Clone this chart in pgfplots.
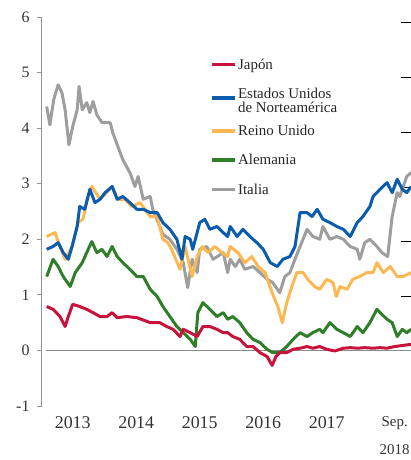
\documentclass[border=0pt]{standalone}
\usepackage{pgfplots}
\pgfplotsset{compat=1.18}
\usepackage{fontspec}
\setmainfont{Liberation Serif}
\definecolor{cJP}{HTML}{C8143C}
\definecolor{cUS}{HTML}{0B5CAD}
\definecolor{cUK}{HTML}{FDB851}
\definecolor{cDE}{HTML}{2F7F2A}
\definecolor{cIT}{HTML}{9E9E9E}
\begin{document}
\begin{tikzpicture}
\useasboundingbox (-42bp,-54bp) rectangle (369bp,406bp);
% right-hand ticks (axis cut off at the right edge)
\begin{axis}[at={(0,0)}, anchor=south west, scale only axis, width=369bp, height=389bp,
  xmin=0, xmax=1, ymin=-1, ymax=6,
  axis x line=none, axis y line*=right, y axis line style={draw=none},
  ytick={5.90,4.91,3.92,2.93,1.96,0.97}, yticklabels={},
  tick align=center, major tick length=20bp,
  ytick style={black, line width=1.6bp}]
\addplot[draw=none] coordinates {(0,-1)(1,6)};
\end{axis}
\begin{axis}[at={(0,0)}, anchor=south west, scale only axis, width=369bp, height=389bp,
  xmin=2013.016, xmax=2018.827, ymin=-1, ymax=6,
  axis y line*=left, axis x line*=bottom,
  x axis line style={draw=none},
  y axis line style={draw=gray!85, line width=1bp},
  ytick={-1,0,1,2,3,4,5,6}, yticklabels={-1,0,1,2,3,4,5,6},
  ytick style={draw=gray!85, line width=1bp},
  tick align=outside, major tick length=5bp,
  xtick={2013.5,2014.5,2015.5,2016.5,2017.5,2018.57},
  xticklabels={2013,2014,2015,2016,2017,{\fontsize{15}{16}\selectfont Sep.\\[12bp]\fontsize{15}{16}\selectfont 2018}},
  xtick style={draw=none},
  xticklabel style={align=center, font=\fontsize{18}{16}\selectfont, yshift=-2.5bp},
  yticklabel style={xshift=-4bp, font=\fontsize{16}{15}\selectfont},
  tick label style={text=black!80},
  legend style={at={(axis cs:2015.66,5.28)}, anchor=north west, draw=none, fill=none,
    font=\fontsize{15}{13}\selectfont, text=black!85, row sep=14.5bp, inner sep=0pt,
    nodes={inner sep=1.5bp}},
  legend cell align=left,
  legend image code/.code={\draw[#1, line width=3.5bp] (0bp,0bp) -- (23bp,0bp);},
  every axis plot/.append style={line width=3bp, line join=round},
]
\addlegendimage{cJP}\addlegendentry{Japón}
\addlegendimage{cUS}\addlegendentry{\begin{tabular}{@{}l@{}}Estados Unidos\\de Norteamérica\end{tabular}}
\addlegendimage{cUK}\addlegendentry{Reino Unido}
\addlegendimage{cDE}\addlegendentry{Alemania}
\addlegendimage{cIT}\addlegendentry{Italia}

\draw[gray!90, line width=1.2bp] (axis cs:2013.08,0) -- (axis cs:2019,0);

% Italia
\addplot[cIT, forget plot] coordinates {
(2013.09,4.39)(2013.14,4.06)(2013.20,4.51)(2013.27,4.78)(2013.33,4.64)(2013.38,4.33)
(2013.44,3.70)(2013.50,4.03)(2013.57,4.33)(2013.60,4.75)(2013.65,4.33)(2013.72,4.46)
(2013.77,4.28)(2013.82,4.48)(2013.88,4.24)(2013.96,4.10)(2014.09,4.10)(2014.13,3.92)
(2014.21,3.67)(2014.29,3.43)(2014.40,3.20)(2014.48,2.95)(2014.53,3.13)(2014.61,2.72)
(2014.72,2.77)(2014.76,2.54)(2014.92,2.09)(2015.03,2.00)(2015.14,1.82)(2015.24,1.58)
(2015.31,1.13)(2015.38,1.64)(2015.46,1.40)(2015.50,1.82)(2015.61,1.87)(2015.71,1.64)
(2015.87,1.76)(2015.94,1.40)(2015.98,1.64)(2016.06,1.51)(2016.13,1.64)(2016.21,1.46)
(2016.34,1.51)(2016.45,1.40)(2016.56,1.28)(2016.65,1.22)(2016.76,1.04)(2016.84,1.33)
(2016.92,1.40)(2017.00,1.64)(2017.08,1.87)(2017.19,2.18)(2017.28,2.05)(2017.39,2.00)
(2017.44,2.23)(2017.55,2.00)(2017.66,2.05)(2017.76,2.00)(2017.87,1.87)(2017.98,1.82)
(2018.02,1.64)(2018.10,1.94)(2018.18,2.00)(2018.29,1.87)(2018.37,1.76)(2018.46,1.69)
(2018.53,2.41)(2018.61,2.84)(2018.65,2.77)(2018.76,3.13)(2018.83,3.20)};

% Reino Unido
\addplot[cUK, forget plot] coordinates {
(2013.09,2.05)(2013.22,2.12)(2013.30,1.87)(2013.38,1.64)(2013.49,1.87)(2013.58,2.30)
(2013.66,2.36)(2013.74,2.77)(2013.80,2.95)(2013.93,2.72)(2014.01,2.81)(2014.12,2.95)
(2014.21,2.72)(2014.32,2.72)(2014.43,2.59)(2014.56,2.66)(2014.72,2.41)(2014.83,2.41)
(2014.92,2.00)(2015.00,1.94)(2015.08,1.76)(2015.19,1.46)(2015.27,1.87)(2015.38,1.33)
(2015.46,1.69)(2015.54,1.87)(2015.63,1.76)(2015.74,1.87)(2015.85,1.76)(2015.94,1.69)
(2015.98,1.87)(2016.10,1.76)(2016.21,1.58)(2016.32,1.69)(2016.42,1.51)(2016.53,1.40)
(2016.64,1.04)(2016.73,0.79)(2016.80,0.50)(2016.87,0.86)(2016.95,1.15)(2017.03,1.40)
(2017.13,1.40)(2017.20,1.28)(2017.31,1.15)(2017.39,1.10)(2017.50,1.28)(2017.60,1.22)
(2017.65,0.97)(2017.71,1.15)(2017.82,1.10)(2017.91,1.28)(2018.02,1.33)(2018.13,1.40)
(2018.23,1.40)(2018.29,1.58)(2018.39,1.40)(2018.50,1.51)(2018.61,1.33)(2018.70,1.33)
(2018.83,1.40)};

% Estados Unidos
\addplot[cUS, forget plot] coordinates {
(2013.09,1.82)(2013.19,1.87)(2013.27,1.94)(2013.35,1.76)(2013.43,1.64)(2013.49,1.87)
(2013.57,2.23)(2013.61,2.59)(2013.69,2.54)(2013.77,2.90)(2013.85,2.66)(2013.93,2.72)
(2014.01,2.84)(2014.12,2.95)(2014.20,2.72)(2014.29,2.77)(2014.40,2.66)(2014.51,2.54)
(2014.61,2.54)(2014.72,2.48)(2014.83,2.48)(2014.92,2.30)(2015.03,2.18)(2015.14,2.00)
(2015.22,1.64)(2015.27,2.05)(2015.35,2.00)(2015.39,1.82)(2015.50,2.30)(2015.58,2.36)
(2015.66,2.18)(2015.77,2.23)(2015.87,2.12)(2015.94,2.05)(2015.98,2.23)(2016.09,2.05)
(2016.18,2.18)(2016.29,2.05)(2016.40,1.94)(2016.50,1.82)(2016.61,1.58)(2016.72,1.51)
(2016.81,1.64)(2016.92,1.69)(2017.00,1.87)(2017.08,2.48)(2017.19,2.48)(2017.27,2.41)
(2017.35,2.54)(2017.44,2.36)(2017.55,2.30)(2017.66,2.23)(2017.76,2.18)(2017.87,2.05)
(2017.98,2.30)(2018.07,2.41)(2018.18,2.59)(2018.23,2.77)(2018.34,2.90)(2018.45,3.02)
(2018.53,2.84)(2018.61,3.08)(2018.69,2.90)(2018.76,2.84)(2018.83,2.95)};

% Alemania
\addplot[cDE, forget plot] coordinates {
(2013.09,1.33)(2013.19,1.64)(2013.27,1.51)(2013.35,1.33)(2013.46,1.15)(2013.54,1.40)
(2013.65,1.58)(2013.72,1.76)(2013.80,1.96)(2013.88,1.76)(2013.96,1.82)(2014.04,1.69)
(2014.12,1.87)(2014.20,1.69)(2014.29,1.58)(2014.40,1.46)(2014.51,1.33)(2014.61,1.33)
(2014.72,1.10)(2014.83,0.97)(2014.92,0.79)(2015.03,0.61)(2015.14,0.43)(2015.24,0.32)
(2015.35,0.20)(2015.43,0.07)(2015.47,0.68)(2015.55,0.86)(2015.66,0.74)(2015.77,0.61)
(2015.87,0.68)(2015.94,0.56)(2016.02,0.61)(2016.13,0.50)(2016.24,0.32)(2016.34,0.20)
(2016.45,0.14)(2016.56,0.02)(2016.65,-0.04)(2016.76,-0.04)(2016.87,0.07)(2016.97,0.20)
(2017.08,0.32)(2017.19,0.25)(2017.28,0.32)(2017.39,0.38)(2017.44,0.32)(2017.55,0.50)
(2017.66,0.38)(2017.76,0.32)(2017.87,0.25)(2017.98,0.43)(2018.07,0.32)(2018.18,0.50)
(2018.29,0.74)(2018.34,0.68)(2018.45,0.56)(2018.53,0.50)(2018.61,0.25)(2018.69,0.38)
(2018.76,0.32)(2018.83,0.38)};

% Japon
\addplot[cJP, forget plot] coordinates {
(2013.09,0.79)(2013.19,0.74)(2013.30,0.61)(2013.38,0.43)(2013.43,0.61)(2013.50,0.83)
(2013.61,0.79)(2013.72,0.74)(2013.82,0.68)(2013.93,0.61)(2014.04,0.61)(2014.12,0.68)
(2014.20,0.59)(2014.35,0.61)(2014.51,0.59)(2014.72,0.50)(2014.87,0.50)(2014.98,0.43)
(2015.08,0.38)(2015.19,0.25)(2015.24,0.38)(2015.35,0.32)(2015.46,0.25)(2015.55,0.43)
(2015.66,0.43)(2015.77,0.38)(2015.87,0.32)(2015.94,0.32)(2016.02,0.25)(2016.13,0.20)
(2016.24,0.07)(2016.34,0.07)(2016.45,-0.04)(2016.56,-0.11)(2016.64,-0.27)(2016.70,-0.11)
(2016.76,-0.04)(2016.87,-0.04)(2016.97,0.02)(2017.08,0.04)(2017.19,0.07)(2017.28,0.04)
(2017.39,0.07)(2017.50,0.02)(2017.63,-0.01)(2017.76,0.04)(2017.87,0.05)(2017.98,0.04)
(2018.10,0.05)(2018.23,0.04)(2018.34,0.05)(2018.45,0.04)(2018.57,0.07)(2018.70,0.09)
(2018.83,0.11)};
\end{axis}
\end{tikzpicture}
\end{document}
